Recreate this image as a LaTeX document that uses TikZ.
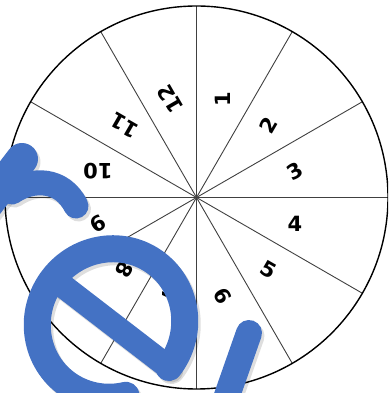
\documentclass[tikz,border=0pt]{standalone}
\usepackage{fontspec}
\newfontfamily\numfont{DejaVu Sans}
\definecolor{wmblue}{RGB}{68,114,196}
\begin{document}
\begin{tikzpicture}[x=1pt,y=1pt,
  numlabel/.style={font=\numfont\bfseries\fontsize{21}{21}\selectfont, inner sep=0pt},
  spoke/.style={draw=black!75, line width=0.9pt},
  rim/.style={draw=black, line width=1.4pt},
  bluestroke/.style={draw=wmblue, line cap=round, line width=#1},
  shadowstroke/.style={draw=black, opacity=0.13, line cap=round, line width=#1}
]
\useasboundingbox (0,0) rectangle (388,393);
\clip (0,0) rectangle (388,393);
\coordinate (c) at (196.5,195.5);
\foreach \a in {0,30,...,330} \draw[spoke] (c) -- ++(\a:191.5);
\draw[rim] (c) circle (191.5);
\foreach \n [count=\i from 0] in {1,...,12} {
  \pgfmathsetmacro\ang{75-30*\i}
  \path (c) ++(\ang:102) node[numlabel, rotate=\ang+15] (n\n) {\n};
}
% watermark letters: soft shadow first
\begin{scope}[shift={(2.5,-3)}]
  \draw[shadowstroke=32] (-40,153) -- (22,234);
  \draw[shadowstroke=25] (12,201) .. controls (32,215) and (62,215) .. (76,187);
  \begin{scope}[shift={(111,70)}, rotate=-37.6]
    \draw[shadowstroke=27] (73,0) arc[start angle=0, end angle=320, x radius=73, y radius=75];
    \draw[shadowstroke=24] (-73,0) -- (73,0);
  \end{scope}
  \draw[shadowstroke=26] (249,60) -- (222,-17);
\end{scope}
% letters
\draw[bluestroke=32] (-40,153) -- (22,234);
\draw[bluestroke=25] (12,201) .. controls (32,215) and (62,215) .. (76,187);
\begin{scope}[shift={(111,70)}, rotate=-37.6]
  \draw[bluestroke=27] (73,0) arc[start angle=0, end angle=320, x radius=73, y radius=75];
  \draw[bluestroke=24] (-73,0) -- (73,0);
\end{scope}
\draw[bluestroke=26] (249,60) -- (222,-17);
\end{tikzpicture}
\end{document}
